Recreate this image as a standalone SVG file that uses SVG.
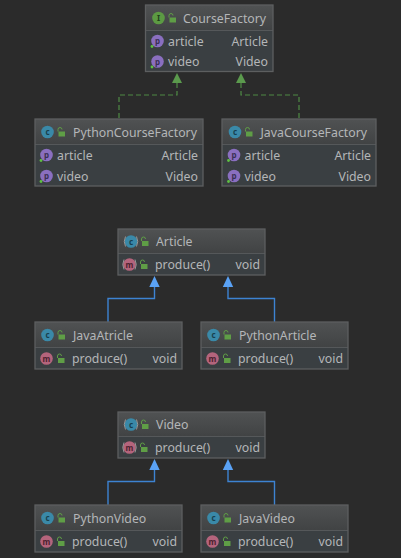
<svg xmlns="http://www.w3.org/2000/svg" width="401" height="558" viewBox="0 0 401 558">
<style>
text{font-family:"Noto Sans","Liberation Sans",sans-serif;font-size:12.3px;fill:#b4b6b8}
.r{text-anchor:end}
.hd{fill:url(#h);stroke:none}
.bd{fill:#3a3f42;stroke:none}
.fr{fill:none;stroke:#5d5f60;stroke-width:1.3}
.dv{stroke:#55585a;stroke-width:1}
.ic{font-size:8px;text-anchor:middle;font-weight:700}
.cC{fill:#3a89a8}.cI{fill:#5c9a43}.cP{fill:#8a6fc0}.cM{fill:#b4647c}
.lk{fill:#5f9e46}
.dot{fill:#5fc142}
.ds{fill:none;stroke:#4f8a45;stroke-width:1.2;stroke-dasharray:5 3}
.bl{fill:none;stroke:#3d83d2;stroke-width:1.4}
.ga{fill:#5b9a4d}.ba{fill:#5aa2f5}
.par{fill:none;stroke:#a9a9a9;stroke-width:.8}
</style>
<defs>
<linearGradient id="h" x1="0" y1="0" x2="0" y2="1"><stop offset="0" stop-color="#505253"/><stop offset="1" stop-color="#414344"/></linearGradient>
<g id="lock"><rect x="-3" y="-1" width="6.500" height="5" class="lk"/><path d="M-3.500 -1V-3a2 2 0 0 1 4 0" fill="none" stroke="#5f9e46" stroke-width="1"/></g>
<g id="prop"><circle r="6.300" class="cP"/><text class="ic" y="3" style="fill:#3a2f55">p</text><circle cx="-5.500" cy="5.500" r="1.400" class="dot"/></g>
<g id="meth"><circle r="6.300" class="cM"/><text class="ic" y="3" style="fill:#4e2230">m</text></g>
<g id="cls"><circle r="6.300" class="cC"/><text class="ic" y="3" style="fill:#17404f">c</text></g>
<path id="p1" class="par" d="M-5.500 -5q-2.500 5 0 10M5.500 -5q2.500 5 0 10"/>
</defs>
<rect width="401" height="558" fill="#2b2b2b"/>
<g id="connectors">
<path class="ds" d="M177 83V95H119V119"/>
<path class="ds" d="M241 83V95H299V119"/>
<polygon class="ga" points="177,73 182,83 172,83"/>
<polygon class="ga" points="241,73 246,83 236,83"/>
<path class="bl" d="M154.500 287V298.500H108V322"/>
<path class="bl" d="M228 287V298.500H274.500V322"/>
<polygon class="ba" points="154.500,276 159.700,287 149.300,287"/>
<polygon class="ba" points="228,276 233.200,287 222.800,287"/>
<path class="bl" d="M154.500 470V481.500H108V505"/>
<path class="bl" d="M228 470V481.500H274.500V505"/>
<polygon class="ba" points="154.500,459 159.700,470 149.300,470"/>
<polygon class="ba" points="228,459 233.200,470 222.800,470"/>
</g>
<g id="CourseFactory">
<rect class="hd" x="145.500" y="5" width="127.500" height="25"/><rect class="bd" x="145.500" y="30" width="127.500" height="41.500"/>
<path class="dv" d="M145.500 30.500H273"/><rect class="fr" x="145.500" y="5" width="127.500" height="66.500"/>
<circle cx="158.500" cy="18" r="6.300" class="cI"/><text class="ic" x="158.500" y="21" style="fill:#20401a">I</text><use href="#lock" x="172.500" y="18.500"/>
<text x="183" y="22.500">CourseFactory</text>
<use href="#prop" x="157.500" y="41"/><text x="168" y="45.500">article</text><text class="r" x="268" y="45.500">Article</text>
<use href="#prop" x="157.500" y="61.500"/><text x="168" y="66">video</text><text class="r" x="268" y="66">Video</text>
</g>
<g id="PythonCourseFactory">
<rect class="hd" x="35" y="119" width="168" height="25"/><rect class="bd" x="35" y="144" width="168" height="42"/>
<path class="dv" d="M35 144.500H203"/><rect class="fr" x="35" y="119" width="168" height="67"/>
<use href="#cls" x="47.500" y="132"/><use href="#lock" x="61.500" y="132.500"/>
<text x="73" y="136.500">PythonCourseFactory</text>
<use href="#prop" x="46.500" y="155"/><text x="57" y="159.500">article</text><text class="r" x="198" y="159.500">Article</text>
<use href="#prop" x="46.500" y="176"/><text x="57" y="180.500">video</text><text class="r" x="198" y="180.500">Video</text>
</g>
<g id="JavaCourseFactory">
<rect class="hd" x="222" y="119" width="154" height="25"/><rect class="bd" x="222" y="144" width="154" height="42"/>
<path class="dv" d="M222 144.500H376"/><rect class="fr" x="222" y="119" width="154" height="67"/>
<use href="#cls" x="235" y="132"/><use href="#lock" x="249" y="132.500"/>
<text x="260.500" y="136.500">JavaCourseFactory</text>
<use href="#prop" x="234" y="155"/><text x="244.500" y="159.500">article</text><text class="r" x="371" y="159.500">Article</text>
<use href="#prop" x="234" y="176"/><text x="244.500" y="180.500">video</text><text class="r" x="371" y="180.500">Video</text>
</g>
<g id="Article">
<rect class="hd" x="118" y="229" width="147" height="24"/><rect class="bd" x="118" y="253" width="147" height="22"/>
<path class="dv" d="M118 253.500H265"/><rect class="fr" x="118" y="229" width="147" height="46"/>
<use href="#cls" x="131" y="241.500"/><use href="#p1" x="131" y="241.500"/><use href="#lock" x="145" y="242"/>
<text x="156" y="246">Article</text>
<use href="#meth" x="129.500" y="264.500"/><use href="#p1" x="129.500" y="264.500"/><use href="#lock" x="144" y="265"/>
<text x="155" y="269">produce()</text><text class="r" x="260" y="269">void</text>
</g>
<g id="JavaAtricle">
<rect class="hd" x="35" y="322" width="147" height="25"/><rect class="bd" x="35" y="347" width="147" height="22"/>
<path class="dv" d="M35 347.500H182"/><rect class="fr" x="35" y="322" width="147" height="47"/>
<use href="#cls" x="47.500" y="335"/><use href="#lock" x="61.500" y="335.500"/>
<text x="73" y="339.500">JavaAtricle</text>
<use href="#meth" x="46.500" y="358.500"/><use href="#lock" x="61" y="359"/>
<text x="72" y="363">produce()</text><text class="r" x="177" y="363">void</text>
</g>
<g id="PythonArticle">
<rect class="hd" x="201" y="322" width="147" height="25"/><rect class="bd" x="201" y="347" width="147" height="22"/>
<path class="dv" d="M201 347.500H348"/><rect class="fr" x="201" y="322" width="147" height="47"/>
<use href="#cls" x="213.500" y="335"/><use href="#lock" x="227.500" y="335.500"/>
<text x="239" y="339.500">PythonArticle</text>
<use href="#meth" x="212.500" y="358.500"/><use href="#lock" x="227" y="359"/>
<text x="238" y="363">produce()</text><text class="r" x="343" y="363">void</text>
</g>
<g id="Video">
<rect class="hd" x="118" y="412" width="147" height="24"/><rect class="bd" x="118" y="436" width="147" height="22"/>
<path class="dv" d="M118 436.500H265"/><rect class="fr" x="118" y="412" width="147" height="46"/>
<use href="#cls" x="131" y="424.500"/><use href="#p1" x="131" y="424.500"/><use href="#lock" x="145" y="425"/>
<text x="156" y="429">Video</text>
<use href="#meth" x="129.500" y="447.500"/><use href="#p1" x="129.500" y="447.500"/><use href="#lock" x="144" y="448"/>
<text x="155" y="452">produce()</text><text class="r" x="260" y="452">void</text>
</g>
<g id="PythonVideo">
<rect class="hd" x="35" y="505" width="147" height="25"/><rect class="bd" x="35" y="530" width="147" height="22"/>
<path class="dv" d="M35 530.500H182"/><rect class="fr" x="35" y="505" width="147" height="47"/>
<use href="#cls" x="47.500" y="518"/><use href="#lock" x="61.500" y="518.500"/>
<text x="73" y="522.500">PythonVideo</text>
<use href="#meth" x="46.500" y="541.500"/><use href="#lock" x="61" y="542"/>
<text x="72" y="546">produce()</text><text class="r" x="177" y="546">void</text>
</g>
<g id="JavaVideo">
<rect class="hd" x="201" y="505" width="147" height="25"/><rect class="bd" x="201" y="530" width="147" height="22"/>
<path class="dv" d="M201 530.500H348"/><rect class="fr" x="201" y="505" width="147" height="47"/>
<use href="#cls" x="213.500" y="518"/><use href="#lock" x="227.500" y="518.500"/>
<text x="239" y="522.500">JavaVideo</text>
<use href="#meth" x="212.500" y="541.500"/><use href="#lock" x="227" y="542"/>
<text x="238" y="546">produce()</text><text class="r" x="343" y="546">void</text>
</g>
</svg>
